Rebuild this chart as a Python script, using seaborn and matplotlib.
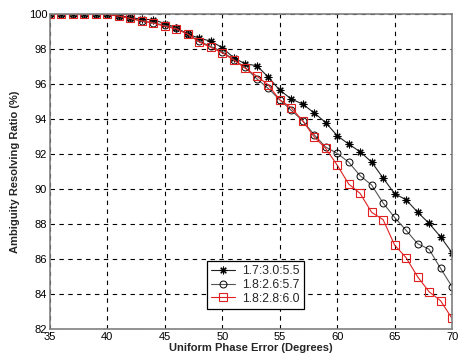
import numpy as np
import pandas as pd
import matplotlib
matplotlib.use("Agg")
import matplotlib.pyplot as plt
import seaborn as sns

degrees = list(range(35, 71))
series_names = ["1.7:3.0:5.5", "1.8:2.6:5.7", "1.8:2.8:6.0"]
ratio_a = [100, 100, 100, 100, 100, 99.98, 99.9, 99.8, 99.7, 99.68, 99.45, 99.22,
           98.85, 98.62, 98.45, 98.08, 97.5, 97.15, 97.05, 96.4, 95.65, 95.15, 94.85,
           94.35, 93.8, 93.05, 92.57, 92.13, 91.54, 90.63, 89.73, 89.39, 88.68, 88.04,
           87.27, 86.36]
ratio_b = [100, 100, 100, 100, 100, 99.98, 99.88, 99.75, 99.6, 99.5, 99.35, 99.18,
           98.85, 98.45, 98.15, 97.85, 97.4, 96.95, 96.3, 95.75, 95.1, 94.5, 93.9,
           93.1, 92.4, 92.04, 91.54, 90.76, 90.23, 89.2, 88.38, 87.64, 86.88, 86.56,
           85.47, 84.42]
ratio_c = [100, 100, 100, 100, 100, 99.98, 99.88, 99.75, 99.6, 99.48, 99.3, 99.15,
           98.85, 98.4, 98.1, 97.78, 97.37, 96.9, 96.45, 95.95, 95.1, 94.65, 93.9,
           92.98, 92.32, 91.37, 90.29, 89.75, 88.67, 88.25, 86.8, 86.08, 84.99, 84.13,
           83.62, 82.61]
x_ticks = [35, 40, 45, 50, 55, 60, 65, 70]
y_ticks = [82, 84, 86, 88, 90, 92, 94, 96, 98, 100]

sns.set_style("white")
plt.rcParams["font.family"] = ["Liberation Sans", "DejaVu Sans"]

fig = plt.figure(figsize=(4.58, 3.64), dpi=100)
ax = fig.add_axes([0.109, 0.096, 0.878, 0.8655])

styles = [
    dict(color="#222222", marker=(8, 2, 0), ms=5.5, mec="black", mfc="none", lw=0.8, mew=0.8),
    dict(color="#555555", marker="o", ms=5, mec="black", mfc="none", lw=0.8, mew=0.7),
    dict(color="#e02020", marker="s", ms=5.2, mec="#e02020", mfc="none", lw=0.8, mew=0.8),
]
for name, vals, st in zip(series_names, [ratio_a, ratio_b, ratio_c], styles):
    df = pd.DataFrame({"deg": degrees, "val": vals})
    sns.lineplot(data=df, x="deg", y="val", ax=ax, label=name, color=st["color"],
                 marker=st["marker"], markersize=st["ms"], markeredgecolor=st["mec"],
                 markerfacecolor=st["mfc"], linewidth=st["lw"], markeredgewidth=st["mew"])

ax.set_xlim(35, 70)
ax.set_ylim(82, 100)
ax.set_xticks(x_ticks)
ax.set_yticks(y_ticks)
ax.tick_params(axis="both", labelsize=8, direction="in", length=3, color="#808080",
               labelcolor="black", pad=2)
ax.grid(True, linestyle=(0, (4, 4)), color="black", linewidth=0.8)
for sp in ax.spines.values():
    sp.set_color("#808080")
    sp.set_linewidth(1.2)
ax.set_xlabel("Uniform Phase Error (Degrees)", fontsize=8, fontweight="bold", labelpad=1)
ax.set_ylabel("Ambiguity Resolving Ratio (%)", fontsize=8, fontweight="bold", labelpad=6)

leg = ax.legend(loc="lower left", bbox_to_anchor=(0.452, 0.151), bbox_transform=fig.transFigure,
                borderaxespad=0, fontsize=8.8, frameon=True, fancybox=False,
                handlelength=1.9, borderpad=0.35, labelspacing=0.15, handletextpad=0.6)
leg.get_frame().set_edgecolor("black")
leg.get_frame().set_linewidth(0.9)
leg.get_frame().set_alpha(1)

fig.savefig("out.png", dpi=100)
